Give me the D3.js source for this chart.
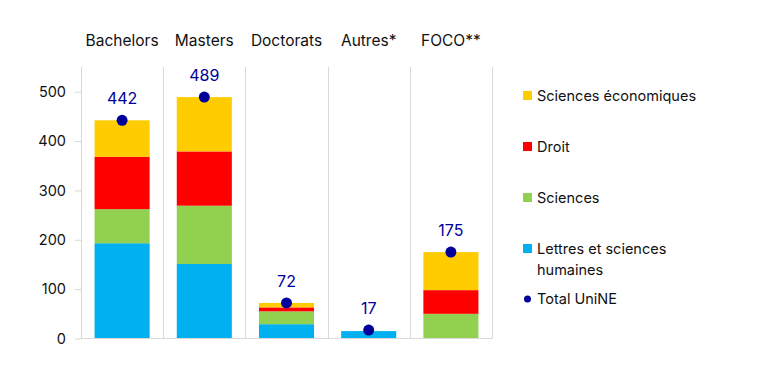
<!DOCTYPE html>
<html lang="fr">
<head>
<meta charset="utf-8">
<title>UniNE</title>
<script src="https://cdn.jsdelivr.net/npm/d3@7"></script>
<style>
  body { margin: 0; background: #fff; font-family: Inter, "Noto Sans", sans-serif; }
  .tick text { font-size: 14.5px; fill: #111; }
</style>
</head>
<body>
<svg></svg>
<script>
// categories & series
var categories = ["Bachelors", "Masters", "Doctorats", "Autres*", "FOCO**"];
var lettres = [193, 151, 29, 15, 0];
var sciences = [69, 118, 26, 0, 50];
var droit = [106, 110, 8, 0, 48];
var eco = [74, 110, 9, 0, 77];
var totals = [442, 489, 72, 17, 175];
var yTicks = [0, 100, 200, 300, 400, 500];

var series = [
  {name: "Lettres et sciences humaines", values: lettres, color: "#00B0F0"},
  {name: "Sciences", values: sciences, color: "#92D050"},
  {name: "Droit", values: droit, color: "#FF0000"},
  {name: "Sciences économiques", values: eco, color: "#FFCC00"}
];

var W = 759, H = 391;
var plotLeft = 81, plotRight = 492, plotTop = 67, plotBottom = 338.5;

var svg = d3.select("svg").attr("width", W).attr("height", H);

var x = d3.scaleBand().domain(categories).range([plotLeft, plotRight]).paddingInner(0).paddingOuter(0);
var y = d3.scaleLinear().domain([0, 550]).range([plotBottom, plotTop]);

// vertical dividers
svg.append("g").selectAll("line")
  .data(categories)
  .enter().append("line")
  .attr("x1", function (d) { return Math.round(x(d) + x.bandwidth()) + 0.5; })
  .attr("x2", function (d) { return Math.round(x(d) + x.bandwidth()) + 0.5; })
  .attr("y1", plotTop).attr("y2", plotBottom)
  .attr("stroke", "#d9d9d9").attr("stroke-width", 1);

// stacked bars
var stackData = categories.map(function (c, i) {
  var o = {cat: c};
  series.forEach(function (s) { o[s.name] = s.values[i]; });
  return o;
});
var stack = d3.stack().keys(series.map(function (s) { return s.name; }));
var layers = stack(stackData);
var barW = x.bandwidth() * 0.67;

svg.append("g").selectAll("g")
  .data(layers)
  .enter().append("g")
  .attr("fill", function (d, i) { return series[i].color; })
  .selectAll("rect")
  .data(function (d) { return d; })
  .enter().append("rect")
  .attr("x", function (d) { return x(d.data.cat) + (x.bandwidth() - barW) / 2; })
  .attr("width", barW)
  .attr("y", function (d) { return y(d[1]); })
  .attr("height", function (d) { return y(d[0]) - y(d[1]); });

// y axis
var yAxis = svg.append("g")
  .attr("transform", "translate(" + plotLeft + ",0)")
  .call(d3.axisLeft(y).tickValues(yTicks).tickSize(6).tickPadding(9));
yAxis.select(".domain").remove();
yAxis.selectAll(".tick line").attr("stroke", "#d9d9c9");
yAxis.selectAll(".tick text").style("font-family", "Inter, sans-serif");

svg.append("line")
  .attr("x1", plotLeft + 0.5).attr("x2", plotLeft + 0.5).attr("y1", plotTop).attr("y2", plotBottom)
  .attr("stroke", "#d9d9c9");
svg.append("line")
  .attr("x1", plotLeft).attr("x2", plotRight).attr("y1", plotBottom).attr("y2", plotBottom)
  .attr("stroke", "#d9d9d9");

// category labels on top
svg.append("g").selectAll("text")
  .data(categories)
  .enter().append("text")
  .attr("x", function (d) { return x(d) + x.bandwidth() / 2; })
  .attr("y", 46)
  .attr("text-anchor", "middle")
  .style("font-size", "15.5px")
  .attr("fill", "#111")
  .text(function (d) { return d; });

// totals: dots + labels
svg.append("g").selectAll("circle")
  .data(totals)
  .enter().append("circle")
  .attr("cx", function (d, i) { return x(categories[i]) + x.bandwidth() / 2; })
  .attr("cy", function (d) { return y(d); })
  .attr("r", 5.5)
  .attr("fill", "#000099");

svg.append("g").selectAll("text")
  .data(totals)
  .enter().append("text")
  .attr("x", function (d, i) { return x(categories[i]) + x.bandwidth() / 2; })
  .attr("y", function (d) { return y(d) - 16; })
  .attr("text-anchor", "middle")
  .style("font-size", "16px")
  .attr("fill", "#000099")
  .text(function (d) { return d; });

// legend
var legendItems = series.slice().reverse();
var lg = svg.append("g").attr("transform", "translate(523,0)");
legendItems.forEach(function (s, i) {
  var cy = 96 + i * 51;
  lg.append("rect").attr("x", 0).attr("y", cy - 5).attr("width", 9).attr("height", 9).attr("fill", s.color);
  var t = lg.append("text").attr("x", 14).attr("y", cy + 5).style("font-size", "14.5px").attr("fill", "#111");
  if (s.name === "Lettres et sciences humaines") {
    t.append("tspan").attr("x", 14).text("Lettres et sciences");
    t.append("tspan").attr("x", 14).attr("dy", 21).text("humaines");
  } else {
    t.text(s.name);
  }
});
lg.append("circle").attr("cx", 4.5).attr("cy", 299).attr("r", 3.5).attr("fill", "#000099");
lg.append("text").attr("x", 14).attr("y", 304).style("font-size", "14.5px").attr("fill", "#111").text("Total UniNE");
</script>
</body>
</html>
